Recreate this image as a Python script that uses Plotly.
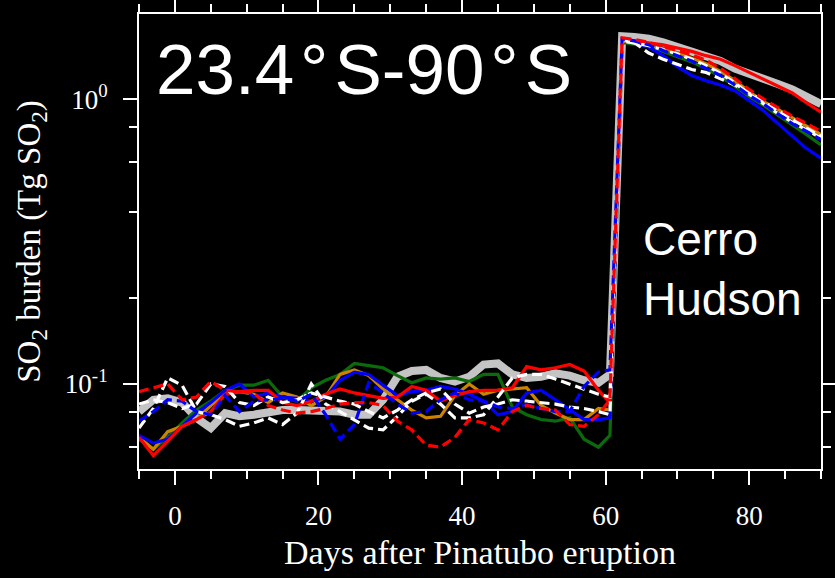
import plotly.graph_objects as go

# Days after Pinatubo eruption
days = [-5, -3, -1, 1, 3, 5, 7, 9, 11, 13, 15, 17, 19, 21, 23, 25, 27, 29, 31, 33,
        35, 37, 39, 41, 43, 45, 47, 49, 51, 53, 55, 57, 59, 60.6,
        62.3, 64, 66, 68, 70, 72, 74, 76, 78, 80, 82, 84, 86, 88, 90]

# SO2 burden (Tg SO2), 23.4S-90S
obs_gray = [0.080, 0.088, 0.089, 0.086, 0.076, 0.070, 0.079, 0.077, 0.078, 0.080, 0.081, 0.081,
            0.081, 0.081, 0.080, 0.078, 0.078, 0.088, 0.106, 0.111, 0.112, 0.105, 0.102, 0.106,
            0.117, 0.118, 0.108, 0.105, 0.106, 0.109, 0.107, 0.103, 0.101, 0.108,
            1.66, 1.65, 1.63, 1.58, 1.52, 1.47, 1.41, 1.36, 1.28, 1.23, 1.19, 1.13, 1.08, 1.02, 0.96]
green = [0.064, 0.059, 0.065, 0.073, 0.081, 0.087, 0.095, 0.099, 0.099, 0.103, 0.090, 0.087,
         0.097, 0.103, 0.108, 0.118, 0.116, 0.114, 0.107, 0.101, 0.105, 0.104, 0.105, 0.102,
         0.108, 0.108, 0.083, 0.078, 0.075, 0.074, 0.076, 0.064, 0.060, 0.066,
         1.58, 1.56, 1.53, 1.47, 1.41, 1.35, 1.28, 1.20, 1.11, 1.02, 0.95, 0.88, 0.81, 0.75, 0.69]
orange = [0.065, 0.059, 0.068, 0.071, 0.075, 0.084, 0.092, 0.094, 0.092, 0.086, 0.093, 0.090,
          0.084, 0.090, 0.108, 0.112, 0.107, 0.096, 0.088, 0.081, 0.076, 0.077, 0.091, 0.100,
          0.092, 0.095, 0.096, 0.097, 0.084, 0.079, 0.075, 0.075, 0.082, 0.081,
          1.60, 1.58, 1.55, 1.50, 1.45, 1.39, 1.33, 1.25, 1.16, 1.06, 0.98, 0.92, 0.86, 0.80, 0.75]
blue_solid = [0.066, 0.062, 0.064, 0.071, 0.079, 0.086, 0.095, 0.100, 0.090, 0.093, 0.090, 0.089,
              0.087, 0.090, 0.103, 0.110, 0.108, 0.099, 0.091, 0.094, 0.095, 0.098, 0.096, 0.092,
              0.087, 0.078, 0.080, 0.093, 0.095, 0.088, 0.081, 0.075, 0.075, 0.076,
              1.62, 1.58, 1.52, 1.42, 1.30, 1.21, 1.16, 1.12, 1.07, 0.99, 0.91, 0.82, 0.74, 0.67, 0.62]
red_solid = [0.065, 0.056, 0.063, 0.071, 0.075, 0.080, 0.092, 0.094, 0.095, 0.095, 0.086, 0.084,
             0.087, 0.092, 0.096, 0.093, 0.091, 0.089, 0.090, 0.098, 0.095, 0.087, 0.091, 0.094,
             0.095, 0.095, 0.097, 0.115, 0.112, 0.114, 0.117, 0.111, 0.095, 0.086,
             1.62, 1.60, 1.58, 1.55, 1.51, 1.47, 1.42, 1.38, 1.31, 1.24, 1.17, 1.11, 1.05, 0.97, 0.90]
white_a = [0.070, 0.082, 0.105, 0.099, 0.080, 0.078, 0.075, 0.071, 0.073, 0.076, 0.072, 0.079,
           0.100, 0.085, 0.080, 0.075, 0.070, 0.069, 0.077, 0.087, 0.092, 0.085, 0.076, 0.076,
           0.078, 0.090, 0.105, 0.108, 0.108, 0.104, 0.100, 0.096, 0.092, 0.090,
           1.62, 1.58, 1.45, 1.38, 1.32, 1.27, 1.24, 1.18, 1.12, 1.05, 0.98, 0.91, 0.85, 0.79, 0.74]
white_b = [0.085, 0.088, 0.086, 0.082, 0.085, 0.100, 0.098, 0.086, 0.084, 0.090, 0.086, 0.088,
           0.093, 0.090, 0.087, 0.085, 0.080, 0.076, 0.081, 0.088, 0.093, 0.096, 0.085, 0.079,
           0.083, 0.085, 0.088, 0.087, 0.086, 0.085, 0.083, 0.082, 0.080, 0.078,
           1.60, 1.57, 1.54, 1.49, 1.44, 1.38, 1.31, 1.23, 1.14, 1.04, 0.96, 0.89, 0.83, 0.78, 0.73]
blue_dash = [0.074, 0.080, 0.088, 0.087, 0.080, 0.078, 0.091, 0.080, 0.087, 0.088, 0.089, 0.087,
             0.092, 0.078, 0.064, 0.072, 0.101, 0.093, 0.085, 0.079, 0.080, 0.088, 0.093, 0.088,
             0.087, 0.083, 0.082, 0.085, 0.082, 0.080, 0.080, 0.098, 0.110, 0.112,
             1.63, 1.60, 1.55, 1.48, 1.42, 1.36, 1.28, 1.21, 1.12, 1.03, 0.96, 0.89, 0.82, 0.77, 0.72]
red_dash = [0.094, 0.097, 0.100, 0.088, 0.090, 0.102, 0.095, 0.094, 0.093, 0.084, 0.081, 0.079,
            0.080, 0.082, 0.085, 0.086, 0.086, 0.084, 0.074, 0.069, 0.061, 0.060, 0.065, 0.075,
            0.073, 0.069, 0.080, 0.084, 0.082, 0.081, 0.072, 0.071, 0.078, 0.088,
            1.64, 1.62, 1.58, 1.53, 1.48, 1.43, 1.37, 1.28, 1.18, 1.08, 1.00, 0.93, 0.87, 0.82, 0.77]

series = [
    ("obs", obs_gray, "#c4c4c4", 8, "solid"),
    ("green", green, "#0b6b0b", 3.2, "solid"),
    ("orange", orange, "#cc8400", 3.2, "solid"),
    ("blue", blue_solid, "#0000ff", 3.2, "solid"),
    ("red", red_solid, "#ff0000", 3.2, "solid"),
    ("white a", white_a, "#ffffff", 3.2, "10px,5px"),
    ("white b", white_b, "#ffffff", 3.2, "10px,5px"),
    ("blue dashed", blue_dash, "#0000ff", 3.2, "10px,5px"),
    ("red dashed", red_dash, "#ff0000", 3.2, "10px,5px"),
]

fig = go.Figure()
for name, vals, col, w, dash in series:
    fig.add_trace(go.Scatter(x=days, y=vals, mode="lines", name=name,
                             line=dict(color=col, width=w, dash=dash),
                             showlegend=False))

serif = "Liberation Serif, Times New Roman, serif"
sans = "Liberation Sans, Arial, sans-serif"

fig.update_layout(
    width=835, height=578,
    margin=dict(l=139, r=14, t=14, b=109),
    paper_bgcolor="black", plot_bgcolor="black",
    font=dict(family=serif, color="white"),
    xaxis=dict(
        range=[-5, 90], tick0=0, dtick=20, automargin=False,
        showline=True, linecolor="white", linewidth=2, mirror="allticks",
        ticks="outside", ticklen=14, tickwidth=2, tickcolor="white",
        minor=dict(dtick=5, tick0=0, ticks="outside", ticklen=8, tickwidth=1.5, tickcolor="white"),
        showgrid=False, zeroline=False,
        tickfont=dict(family=serif, size=27, color="white"),
        ticklabelstandoff=8,
        title=dict(text="Days after Pinatubo eruption", font=dict(family=serif, size=34, color="white"),
                   standoff=10),
    ),
    yaxis=dict(
        type="log", range=[-1.2985, 0.2985], automargin=False,
        tickvals=[0.1, 1], ticktext=["10<sup>-1</sup>", "10<sup>0</sup>"],
        showline=True, linecolor="white", linewidth=2, mirror="allticks",
        ticks="outside", ticklen=14, tickwidth=2, tickcolor="white",
        minor=dict(tickvals=[0.06, 0.08, 0.2, 0.4, 0.6, 0.8], ticks="outside", ticklen=8,
                   tickwidth=1.5, tickcolor="white"),
        showgrid=False, zeroline=False,
        tickfont=dict(family=serif, size=27, color="white"),
        ticklabelstandoff=10,
        title=dict(text="SO<sub>2</sub> burden (Tg SO<sub>2</sub>)",
                   font=dict(family=serif, size=33, color="white"), standoff=14),
    ),
    annotations=[
        dict(text="23.4\u200a°\u200aS-90\u200a°\u200aS", xref="paper", yref="paper",
             x=0.022, y=0.970, xanchor="left", yanchor="top", showarrow=False,
             font=dict(family=sans, size=71, color="white")),
        dict(text="Cerro<br>Hudson", xref="paper", yref="paper", align="left",
             x=0.736, y=0.568, xanchor="left", yanchor="top", showarrow=False,
             font=dict(family=sans, size=46, color="white")),
    ],
)

fig.write_html("out.html")
